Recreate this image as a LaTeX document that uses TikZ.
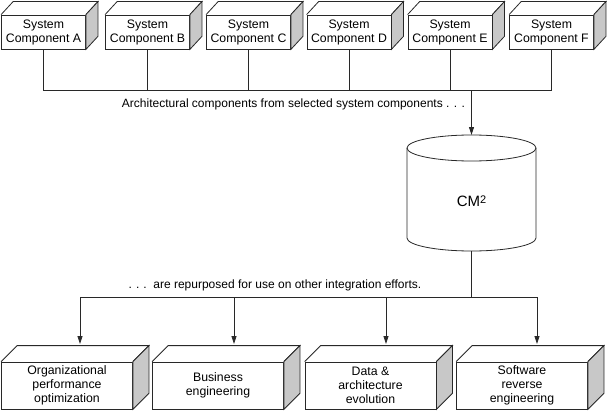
\documentclass[tikz,border=0pt]{standalone}
\usepackage{fontspec}
\setmainfont{Liberation Sans}
\usetikzlibrary{arrows.meta,calc}
\definecolor{sidegray}{RGB}{200,200,200}
\definecolor{linec}{RGB}{40,40,40}
\newcommand\depthbox[3]{% node name, dx, dy
  \draw[linec] (#1.north west) -- ++(#2,-#3) -- ($(#1.north east)+(#2,-#3)$) -- (#1.north east);
  \filldraw[linec,fill=sidegray] (#1.north east) -- ++(#2,-#3) -- ($(#1.south east)+(#2,-#3)$) -- (#1.south east) -- cycle;
}
\begin{document}
\begin{tikzpicture}[x=1pt,y=-1pt,line width=0.8pt,
  topbox/.style={draw=linec,fill=white,minimum width=84pt,minimum height=34pt,inner sep=0pt,align=center,font=\fontsize{12.3}{14}\selectfont},
  botbox/.style={draw=linec,fill=white,minimum width=131pt,minimum height=47pt,inner sep=0pt,align=center,font=\fontsize{12.3}{14}\selectfont},
  conn/.style={draw=linec},
  arr/.style={draw=linec,-{Triangle[length=8pt,width=5pt]}},
  lbl/.style={font=\fontsize{12}{14}\selectfont,inner sep=0pt}]
\useasboundingbox (0,0) rectangle (607,412);
% top boxes
\node[topbox] (A) at (43.5,32) {System\\Component A};
\node[topbox] (B) at (147.5,32) {System\\Component B};
\node[topbox] (C) at (248.5,32) {System\\Component C};
\node[topbox] (D) at (349,32) {System\\Component D};
\node[topbox] (E) at (450,32) {System\\Component E};
\node[topbox] (F) at (551.5,32) {System\\Component F};
\foreach \n in {A,B,C,D,E,F} {\depthbox{\n}{12}{13}}
% top bus
\coordinate (busT) at (0,90);
\draw[conn] (A.south) -- (A.south |- busT) -- (F.south |- busT) -- (F.south);
\foreach \n in {B,C,D,E} {\draw[conn] (\n.south) -- (\n.south |- busT);}
\node[lbl] (t1) at (293.5,104) {Architectural components from selected system components . . .};
% cylinder
\coordinate (cmtop) at (471.5,135);
\coordinate (cmbot) at (471.5,251);
\draw[linec] (471.5,148) ellipse [x radius=64.5, y radius=13];
\draw[linec] (407,148) -- (407,238) arc[start angle=180,end angle=0,x radius=64.5,y radius=13] -- (536,148);
\node[font=\fontsize{15}{17}\selectfont] (cm) at (471.5,201) {CM{\fontsize{11}{13}\selectfont\raisebox{0.45ex}{2}}};
\draw[arr] (cmtop |- busT) -- (cmtop);
% bottom bus
\coordinate (busB) at (0,297);
\node[lbl] (t2) at (275,285) {.\,\,.\,\,.\ \ are repurposed for use on other integration efforts.};
\node[botbox] (b1) at (67,385.5) {Organizational\\performance\\optimization};
\node[botbox] (b2) at (218,385.5) {Business\\engineering};
\node[botbox] (b3) at (370.5,385.5) {Data \&\\architecture\\evolution};
\node[botbox] (b4) at (522,385.5) {Software\\reverse\\engineering};
\foreach \n in {b1,b2,b3,b4} {\depthbox{\n}{16}{16}}
\coordinate (a1) at (80,344);
\coordinate (a2) at (234,344);
\coordinate (a3) at (386,344);
\coordinate (a4) at (537,344);
\draw[conn] (cmbot) -- (cmbot |- busB);
\draw[conn] (a1 |- busB) -- (a4 |- busB);
\foreach \n in {a1,a2,a3,a4} {\draw[arr] (\n |- busB) -- (\n);}
\end{tikzpicture}
\end{document}
